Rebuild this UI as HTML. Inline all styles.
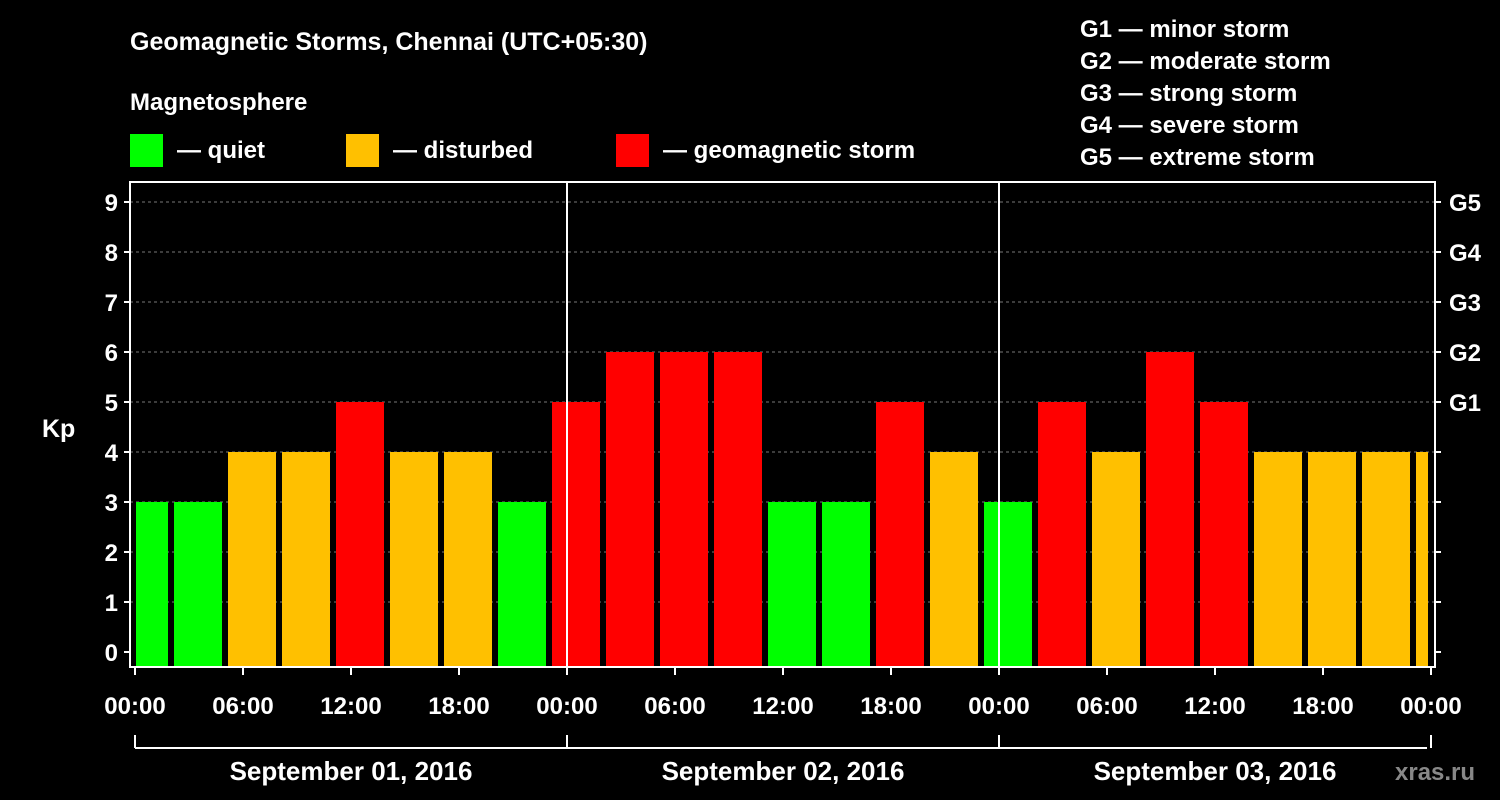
<!DOCTYPE html>
<html><head><meta charset="utf-8"><style>
html,body{margin:0;padding:0;background:#000;}
svg{display:block;font-family:"Liberation Sans",sans-serif;font-weight:bold;}
</style></head><body>
<svg id="chart" width="1500" height="800">
<rect x="0" y="0" width="1500" height="800" fill="#000"/>
<text x="130" y="50" fill="#fff" font-size="25">Geomagnetic Storms, Chennai (UTC+05:30)</text>
<text x="130" y="110" fill="#fff" font-size="24">Magnetosphere</text>
<rect x="130" y="134" width="33" height="33" fill="#00ff00"/>
<text x="177" y="158" fill="#fff" font-size="24">— quiet</text>
<rect x="346" y="134" width="33" height="33" fill="#ffc000"/>
<text x="393" y="158" fill="#fff" font-size="24">— disturbed</text>
<rect x="616" y="134" width="33" height="33" fill="#ff0000"/>
<text x="663" y="158" fill="#fff" font-size="24">— geomagnetic storm</text>
<g fill="#fff" font-size="24">
<text x="1080" y="37">G1 — minor storm</text>
<text x="1080" y="69">G2 — moderate storm</text>
<text x="1080" y="101">G3 — strong storm</text>
<text x="1080" y="133">G4 — severe storm</text>
<text x="1080" y="165">G5 — extreme storm</text>
</g>
<text x="42" y="437" fill="#fff" font-size="25">Kp</text>
<text x="1395" y="780" fill="#888" font-size="24">xras.ru</text>
<g id="plot"></g>
</svg>
<script>
const kpValues = [3,3,4,4,5,4,4,3,5,6,6,6,3,3,5,4,3,5,4,6,5,4,4,4,4];
const yTicks = [0,1,2,3,4,5,6,7,8,9];
const gLabels = ["G1","G2","G3","G4","G5"];
const xTickLabels = ["00:00","06:00","12:00","18:00","00:00","06:00","12:00","18:00","00:00","06:00","12:00","18:00","00:00"];
const dayLabels = ["September 01, 2016","September 02, 2016","September 03, 2016"];

const NS="http://www.w3.org/2000/svg";
const g=document.getElementById('plot');
const L=130,R=1435,T=182,B=667,X0=135,DAY=432;
const y=v=>652-v*50;
const xh=h=>X0+h*18;
function mk(t,a){const e=document.createElementNS(NS,t);for(const k in a)e.setAttribute(k,a[k]);g.appendChild(e);return e;}
// grid
yTicks.forEach(v=>{
 if(v>0){const l=mk('line',{x1:L,x2:R,y1:y(v),y2:y(v),stroke:'#777','stroke-dasharray':'3,3'});
 
 }
 const t=mk('text',{x:118,y:y(v)+9,fill:'#fff','font-size':24,'text-anchor':'end'});t.textContent=v;
 
 
 mk('line',{x1:L-6,x2:L,y1:y(v),y2:y(v),stroke:'#fff','stroke-width':2});
 mk('line',{x1:R,x2:R+6,y1:y(v),y2:y(v),stroke:'#fff','stroke-width':2});
});
gLabels.forEach((s,i)=>{const t=mk('text',{x:1449,y:y(5+i)+9,fill:'#fff','font-size':24});t.textContent=s;
 
 });
// bars
kpValues.forEach((v,i)=>{
 let x1=X0-15+i*54, x2=x1+48;
 x1=Math.max(x1,X0+1); x2=Math.min(x2,1428);
 const c=v>=5?'#ff0000':(v>=4?'#ffc000':'#00ff00');
 const r=mk('rect',{x:x1,y:y(v),width:x2-x1,height:B-y(v),fill:c});
 
 
});
// day separators
[1,2].forEach(d=>{mk('line',{x1:X0+d*DAY,x2:X0+d*DAY,y1:T,y2:B,stroke:'#fff','stroke-width':2});});
// frame
const fr=mk('rect',{x:L,y:T,width:R-L,height:B-T,fill:'none',stroke:'#fff','stroke-width':2});


// x ticks
xTickLabels.forEach((s,i)=>{const x=xh(i*6);
 mk('line',{x1:x,x2:x,y1:B,y2:B+8,stroke:'#fff','stroke-width':2});
 const t=mk('text',{x:x,y:714,fill:'#fff','font-size':24,'text-anchor':'middle'});t.textContent=s;
 
 });
// day bracket
mk('line',{x1:X0,x2:X0+3*DAY-4,y1:748,y2:748,stroke:'#fff','stroke-width':2});
[0,1,2,3].forEach(d=>{const x=Math.min(X0+d*DAY,1431);mk('line',{x1:x,x2:x,y1:735,y2:748,stroke:'#fff','stroke-width':2});});
dayLabels.forEach((s,i)=>{const t=mk('text',{x:X0+i*DAY+DAY/2,y:780,fill:'#fff','font-size':26,'text-anchor':'middle'});t.textContent=s;
 
 });
</script>
</body></html>
